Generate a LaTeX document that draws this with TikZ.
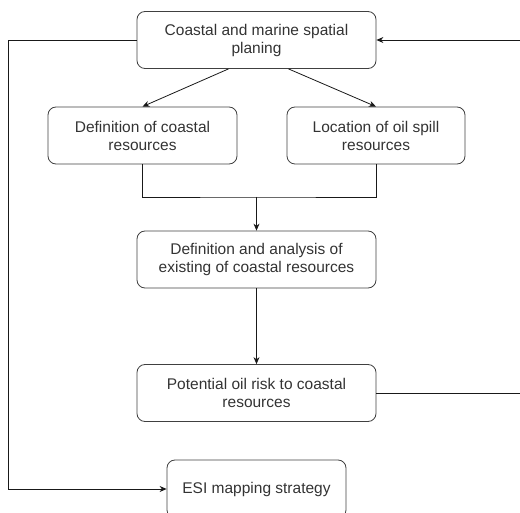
\documentclass[tikz,border=0pt]{standalone}
\usepackage{fontspec}
\setmainfont{Liberation Sans}
\usetikzlibrary{arrows.meta}
\begin{document}
\begin{tikzpicture}[x=1pt,y=-1pt,
  every node/.style={font=\fontsize{15.5}{18}\selectfont, text=black!80},
  box/.style={draw=black!75, line width=0.8pt, rounded corners=8pt, align=center,
    inner sep=0pt, minimum height=57pt},
  link/.style={draw=black!90, line width=0.8pt},
  arr/.style={link, -{Stealth[length=7pt,width=6pt]}}
]
\useasboundingbox (0,0) rectangle (520,513);
\clip (0,0) rectangle (520,513);

% boxes
\node[box, minimum width=239pt] (plan) at (256.5,40) {Coastal and marine spatial\\planing};
\node[box, minimum width=189pt] (defcoast) at (142.5,135.5) {Definition of coastal\\resources};
\node[box, minimum width=178pt] (oilloc) at (376,135.5) {Location of oil spill\\resources};
\node[box, minimum width=239pt] (analysis) at (256.5,259.5) {Definition and analysis of\\existing of coastal resources};
\node[box, minimum width=239pt] (risk) at (256.5,393) {Potential oil risk to coastal\\resources};
\node[box, minimum width=179pt, minimum height=58pt] (esi) at (256.5,489) {ESI mapping strategy};

\coordinate (join) at (256.5,197);
\coordinate (leftrail) at (8,40);
\coordinate (rightrail) at (521,393);

% connectors
\draw[arr] ([xshift=-28pt]plan.south) -- (defcoast.north);
\draw[arr] ([xshift=32pt]plan.south) -- (oilloc.north);
\draw[link] (defcoast.south) |- (join) -| (oilloc.south);
\draw[arr] (join) -- (analysis.north);
\draw[arr] (analysis) -- (risk);
\draw[arr] (risk.east) -- (rightrail) |- (plan.east);
\draw[arr] (plan.west) -- (leftrail) |- (esi.west);

\end{tikzpicture}
\end{document}
